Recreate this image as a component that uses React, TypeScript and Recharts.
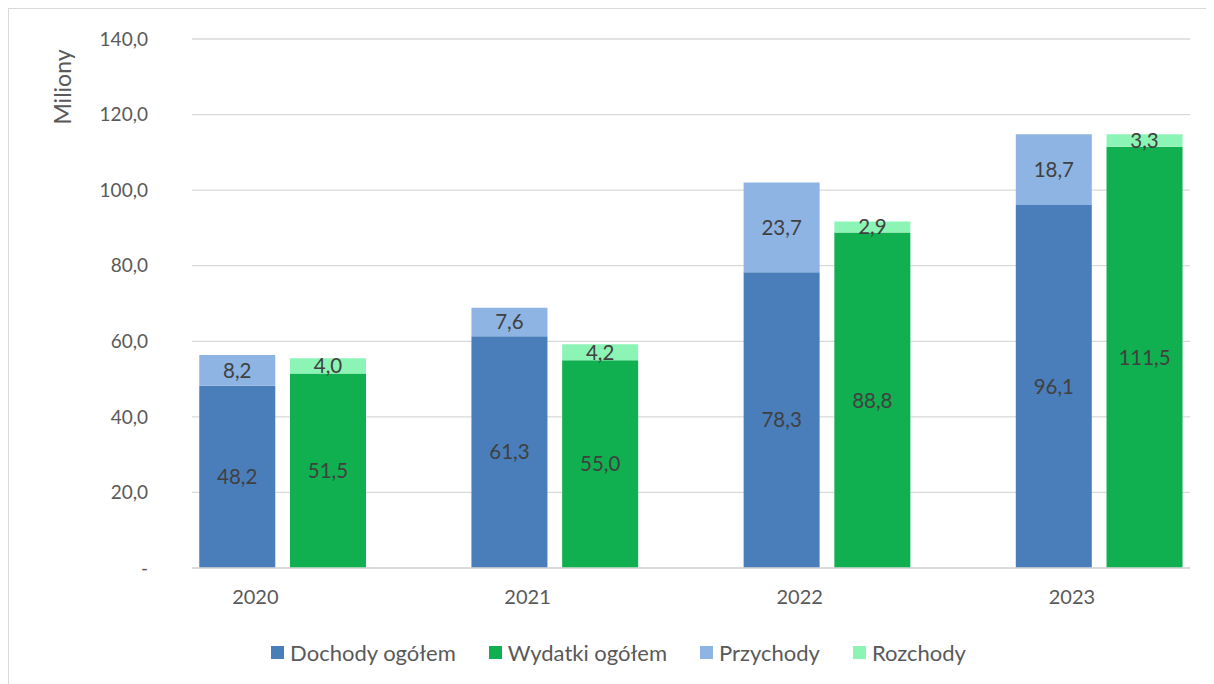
import { BarChart, Bar, XAxis, YAxis, CartesianGrid, Legend, LabelList } from 'recharts'

const YEARS = ['2020', '2021', '2022', '2023']
const DOCHODY = [48.2, 61.3, 78.3, 96.1]
const PRZYCHODY = [8.2, 7.6, 23.7, 18.7]
const WYDATKI = [51.5, 55.0, 88.8, 111.5]
const ROZCHODY = [4.0, 4.2, 2.9, 3.3]
const Y_TICKS = [0, 20, 40, 60, 80, 100, 120, 140]
const LEGEND_ORDER = ['Dochody ogółem', 'Wydatki ogółem', 'Przychody', 'Rozchody']

const C_DOCH = '#4A7EBB'
const C_WYD = '#10AF50'
const C_PRZY = '#8EB4E3'
const C_ROZ = '#8CF5B6'
const FONT = 'Lato, "Noto Sans", sans-serif'
const TXT = '#595959'

// each year -> [dochody slot, wydatki slot, empty spacer]
const rows: { slot: string; label: string; dochody: number; przychody: number; wydatki: number; rozchody: number }[] = []
YEARS.forEach((y, i) => {
  rows.push({ slot: y + 'a', label: y, dochody: DOCHODY[i], przychody: PRZYCHODY[i], wydatki: 0, rozchody: 0 })
  rows.push({ slot: y + 'b', label: '', dochody: 0, przychody: 0, wydatki: WYDATKI[i], rozchody: ROZCHODY[i] })
  if (i < YEARS.length - 1) rows.push({ slot: y + 's', label: '', dochody: 0, przychody: 0, wydatki: 0, rozchody: 0 })
})

const fmt = (v: unknown) => {
  const n = Number(v)
  if (!n) return ''
  return n.toFixed(1).replace('.', ',')
}

// eslint-disable-next-line @typescript-eslint/no-explicit-any
function YearTick({ x, y, payload }: any) {
  const lbl = rows[payload.index]?.label
  if (!lbl) return null
  return (
    <text x={x + 18} y={y} dy="0.71em" textAnchor="middle" fill={TXT} fontSize={20} fontFamily={FONT}>{lbl}</text>
  )
}

// eslint-disable-next-line @typescript-eslint/no-explicit-any
function AxisTitle({ viewBox }: any) {
  const x = viewBox.x + 43
  const y = viewBox.y + 48
  return (
    <text x={x} y={y} transform={`rotate(-90 ${x} ${y})`} textAnchor="middle" dominantBaseline="central" fill={TXT} fontSize={23} fontFamily={FONT}>Miliony</text>
  )
}

// eslint-disable-next-line @typescript-eslint/no-explicit-any
function LegendBox({ payload }: any) {
  // eslint-disable-next-line @typescript-eslint/no-explicit-any
  const items = [...payload].sort((a: any, b: any) => LEGEND_ORDER.indexOf(a.value) - LEGEND_ORDER.indexOf(b.value))
  return (
    <div style={{ display: 'flex', justifyContent: 'center', alignItems: 'flex-start', gap: 33, height: 41, boxSizing: 'border-box', paddingTop: 11, paddingLeft: 28, fontFamily: FONT, fontSize: 22, lineHeight: '27px', color: TXT }}>
      {/* eslint-disable-next-line @typescript-eslint/no-explicit-any */}
      {items.map((p: any) => (
        <div key={p.value} style={{ display: 'flex', alignItems: 'center', gap: 6 }}>
          <span style={{ width: 13, height: 13, background: p.color, display: 'inline-block' }} />
          <span>{p.value}</span>
        </div>
      ))}
    </div>
  )
}

const labelStyle = { fill: '#404040', fontSize: 20.5, fontFamily: FONT }

export default function App() {
  return (
    <div style={{ width: 1206, height: 676, overflow: 'hidden' }}>
      <div style={{ width: 1230, height: 700, border: '1px solid #d9d9d9', boxSizing: 'border-box' }}>
        <BarChart width={1200} height={670} data={rows} margin={{ top: 30, right: 19, left: 10, bottom: 10 }} barCategoryGap="8%">
          <CartesianGrid horizontal vertical={false} stroke="#d9d9d9" strokeWidth={1.3} />
          <XAxis dataKey="slot" interval={0} tick={<YearTick />} tickLine={false} tickSize={0} tickMargin={22} axisLine={{ stroke: '#d9d9d9', strokeWidth: 1.3 }} height={60} />
          <YAxis width={173} domain={[0, 140]} ticks={Y_TICKS} interval={0} axisLine={false} tickLine={false} tickSize={0} tickMargin={44}
            tickFormatter={(v: number) => (v === 0 ? '-' : v.toFixed(1).replace('.', ','))}
            tick={{ fill: TXT, fontSize: 19, fontFamily: FONT }}
            label={<AxisTitle />} />
          <Legend verticalAlign="bottom" height={41} content={<LegendBox />} />
          <Bar dataKey="dochody" name="Dochody ogółem" stackId="s" fill={C_DOCH} isAnimationActive={false}>
            <LabelList dataKey="dochody" position="center" formatter={fmt} style={labelStyle} />
          </Bar>
          <Bar dataKey="wydatki" name="Wydatki ogółem" stackId="s" fill={C_WYD} isAnimationActive={false}>
            <LabelList dataKey="wydatki" position="center" formatter={fmt} style={labelStyle} />
          </Bar>
          <Bar dataKey="przychody" name="Przychody" stackId="s" fill={C_PRZY} isAnimationActive={false}>
            <LabelList dataKey="przychody" position="center" formatter={fmt} style={labelStyle} />
          </Bar>
          <Bar dataKey="rozchody" name="Rozchody" stackId="s" fill={C_ROZ} isAnimationActive={false}>
            <LabelList dataKey="rozchody" position="center" formatter={fmt} style={labelStyle} />
          </Bar>
        </BarChart>
      </div>
    </div>
  )
}
